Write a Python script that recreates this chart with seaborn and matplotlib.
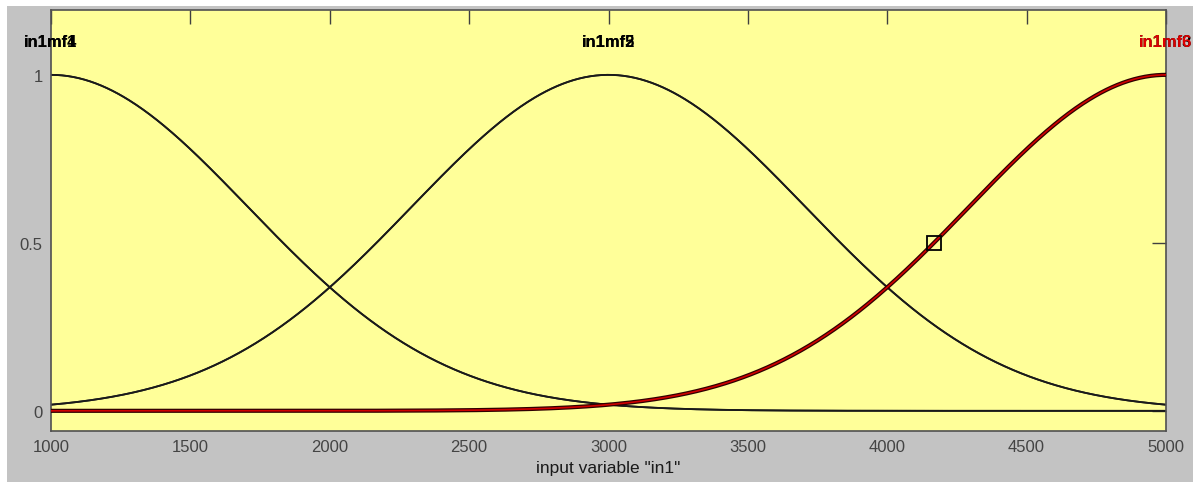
import numpy as np
import pandas as pd
import matplotlib
matplotlib.use("Agg")
import matplotlib.pyplot as plt
from matplotlib.patches import Rectangle
import seaborn as sns

# Gaussian membership functions of input variable "in1"
mf_names = ["in1mf1", "in1mf2", "in1mf3", "in1mf4", "in1mf5", "in1mf6"]
mf_centers = [1000, 3000, 5000, 1000, 3000, 5000]
mf_sigmas = [707, 707, 707, 707, 707, 707]
selected_mf = "in1mf6"

x_range = [1000, 5000]
x_ticks = [1000, 1500, 2000, 2500, 3000, 3500, 4000, 4500, 5000]
y_ticks = [0, 0.5, 1]
y_tick_labels = ["0", "0.5", "1"]
x_label = 'input variable "in1"'

# evaluate each gaussmf on the universe of discourse
x = np.linspace(x_range[0], x_range[1], 801)
frames = []
for name, c, s in zip(mf_names, mf_centers, mf_sigmas):
    frames.append(pd.DataFrame({"x": x, "mu": np.exp(-((x - c) ** 2) / (2 * s ** 2)), "mf": name}))
df = pd.concat(frames, ignore_index=True)

sns.set_style("white")
plt.rcParams["font.family"] = ["Liberation Sans", "DejaVu Sans"]

W, H = 1193, 485
fig = plt.figure(figsize=(W / 100, H / 100), dpi=100, facecolor="white")
fig.patches.append(Rectangle((7 / W, 2 / H), 1 - 7 / W, (H - 9) / H,
                             transform=fig.transFigure, facecolor="#c3c3c3",
                             edgecolor="none", zorder=-5))
ax = fig.add_axes([51 / W, 1 - 432 / H, (1166 - 51) / W, (432 - 11) / H])
ax.set_zorder(1)
ax.set_facecolor("#ffff99")

others = df[df["mf"] != selected_mf]
sel = df[df["mf"] == selected_mf]
sns.lineplot(data=others, x="x", y="mu", units="mf", estimator=None,
             color="#1a1a1a", lw=1.3, ax=ax, legend=False, zorder=2)
sns.lineplot(data=sel, x="x", y="mu", estimator=None,
             color="#300000", lw=3.0, ax=ax, legend=False, zorder=3)
sns.lineplot(data=sel, x="x", y="mu", estimator=None,
             color="#d00000", lw=1.2, ax=ax, legend=False, zorder=4)

# labels above each peak; names sharing a centre are printed on top of each other
for k, (name, c) in enumerate(zip(mf_names, mf_centers)):
    ax.text(c, 1.1, name, ha="center", va="center", fontsize=12, fontweight="bold",
            color="#e00000" if name == selected_mf else "black", clip_on=False,
            zorder=5 + (name == selected_mf))

# selection handle at half height of the selected curve
i_sel = mf_names.index(selected_mf)
c_sel, s_sel = mf_centers[i_sel], mf_sigmas[i_sel]
x_half = c_sel - s_sel * np.sqrt(2 * np.log(2))
ax.plot([x_half], [0.5], marker="s", ms=10, mfc="none", mec="black", mew=1.3, zorder=7)

ax.set_xlim(x_range)
ax.set_ylim(-0.06, 1.193)
ax.set_xticks(x_ticks)
ax.set_xticklabels([str(t) for t in x_ticks])
ax.set_yticks(y_ticks)
ax.set_yticklabels(y_tick_labels)
ax.tick_params(direction="in", length=10, width=1, color="#404040", labelcolor="#444444",
               labelsize=12, top=True, right=True, pad=6)
ax.set_xlabel(x_label, fontsize=12.5, color="#1a1a1a", labelpad=4)
ax.set_ylabel("")
for sp in ax.spines.values():
    sp.set_color("#505050")
    sp.set_linewidth(1.2)

fig.savefig("out.png", dpi=100, facecolor=fig.get_facecolor())
